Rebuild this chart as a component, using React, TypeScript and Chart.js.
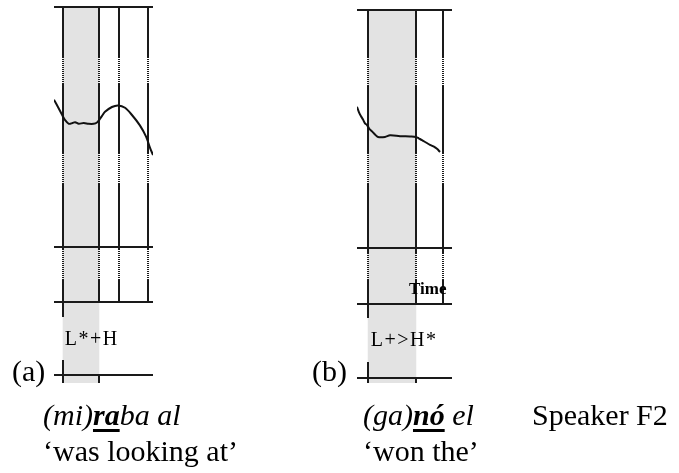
import React, { useEffect, useRef } from "react";
import { Chart, registerables } from "chart.js";
Chart.register(...registerables);

// ---------- Data ----------
// Panel (a): (mi)raba al
const timesA = [0, 0.016, 0.033, 0.044, 0.06, 0.075, 0.085, 0.1, 0.12, 0.14, 0.16, 0.175, 0.183, 0.194, 0.206, 0.234, 0.259, 0.287, 0.315, 0.347, 0.372, 0.388, 0.4];
const f0A = [284, 275, 265, 259, 254, 255, 256, 254, 255, 254, 254, 256, 259, 264, 269, 275, 277, 274, 265, 252, 238, 224, 215];
const boundariesA = [0.035, 0.183, 0.264, 0.379];
const accentA = [0.035, 0.183];
const toneA = "L*+H";

// Panel (b): (ga)nó el
const timesB = [0, 0.008, 0.016, 0.024, 0.032, 0.04, 0.05, 0.06, 0.072, 0.084, 0.112, 0.132, 0.172, 0.212, 0.236, 0.248, 0.26, 0.276, 0.292, 0.306, 0.32, 0.332];
const f0B = [278, 271, 266, 262, 257, 255, 250, 247, 243, 240, 240, 242, 241, 240.5, 240, 238, 236, 233, 230, 228, 225, 221];
const boundariesB = [0.043, 0.237, 0.343];
const accentB = [0.043, 0.237];
const toneB = "L+>H*";

const timeRangeA = [0, 0.4];
const timeRangeB = [0, 0.38];
const f0Range = [100, 400];

const SERIF = '"Liberation Serif", "Times New Roman", serif';
const IT = `italic 30px ${SERIF}`;
const BI = `italic bold 30px ${SERIF}`;
const RG = `30px ${SERIF}`;

type Run = { text: string; font: string; underline?: boolean };
type Caption = { x: number; y: number; runs: Run[] };

const B0 = 290; // page x of panel (b) canvas

const captionsA: Caption[] = [
  { x: 12, y: 381, runs: [{ text: "(a)", font: RG }] },
  { x: 43, y: 425, runs: [{ text: "(mi)", font: IT }, { text: "ra", font: BI, underline: true }, { text: "ba al", font: IT }] },
  { x: 43, y: 461, runs: [{ text: "\u2018was looking at\u2019", font: RG }] },
];
const captionsB: Caption[] = [
  { x: 312 - B0, y: 381, runs: [{ text: "(b)", font: RG }] },
  { x: 363 - B0, y: 425, runs: [{ text: "(ga)", font: IT }, { text: "nó", font: BI, underline: true }, { text: " el", font: IT }] },
  { x: 532 - B0, y: 425, runs: [{ text: "Speaker F2", font: RG }] },
  { x: 363 - B0, y: 461, runs: [{ text: "\u2018won the\u2019", font: RG }] },
];

type PanelSpec = {
  times: number[];
  f0: number[];
  boundaries: number[];
  accent: number[];
  tone: string;
  timeRange: number[];
  captions: Caption[];
  width: number;
  padding: { left: number; right: number; top: number; bottom: number };
  tier1H: number;
  tier2H: number;
  tickH: number;
  leftExtra: number;
  tickUp: number;
  dotted: number[][];
  tierDotted: number[];
  toneOffset: { dx: number; y: number };
  timeLabel?: { x: number; y: number };
};

const LINE = "#1a1a1a";
const SHADE = "#e3e3e3";

const panelA: PanelSpec = {
  times: timesA, f0: f0A, boundaries: boundariesA, accent: accentA, tone: toneA,
  timeRange: timeRangeA, captions: captionsA, width: 290,
  padding: { left: 54, right: 290 - 153, top: 7, bottom: 226 },
  tier1H: 55, tier2H: 73, tickH: 8, leftExtra: 15, tickUp: 15,
  dotted: [[50, 76], [146, 176]], tierDotted: [2, 33],
  toneOffset: { dx: 2, y: 345 },
};
const panelB: PanelSpec = {
  times: timesB, f0: f0B, boundaries: boundariesB, accent: accentB, tone: toneB,
  timeRange: timeRangeB, captions: captionsB, width: 679 - B0,
  padding: { left: 357 - B0, right: 679 - 452, top: 10, bottom: 225 },
  tier1H: 56, tier2H: 74, tickH: 5, leftExtra: 14, tickUp: 16,
  dotted: [[47, 75], [143, 173]], tierDotted: [5, 32],
  toneOffset: { dx: 3, y: 346 },
  timeLabel: { x: 409 - B0, y: 294 },
};

function vLine(ctx: CanvasRenderingContext2D, x: number, y0: number, y1: number, bands: number[][]) {
  let cur = y0;
  const sorted = bands.filter((b) => b[1] > y0 && b[0] < y1).sort((a, b) => a[0] - b[0]);
  for (const b of sorted) {
    if (b[0] > cur) {
      ctx.beginPath(); ctx.moveTo(x, cur); ctx.lineTo(x, b[0]); ctx.stroke();
    }
    const s = Math.round(Math.max(b[0], y0));
    const e = Math.round(Math.min(b[1], y1));
    for (let y = s; y < e; y += 2) ctx.fillRect(x - 1, y, 2, 1);
    cur = Math.min(b[1], y1);
  }
  if (cur < y1) {
    ctx.beginPath(); ctx.moveTo(x, cur); ctx.lineTo(x, y1); ctx.stroke();
  }
}

function makePlugin(p: PanelSpec) {
  return {
    id: "panelFrame",
    beforeDatasetsDraw(chart: any) {
      const { ctx, chartArea } = chart;
      const xs = chart.scales.x;
      const left = chartArea.left, right = chartArea.right, top = chartArea.top, pitchBottom = chartArea.bottom;
      const tier1 = pitchBottom + p.tier1H;
      const tier2 = tier1 + p.tier2H;
      const tickBottom = tier2 + p.tickH;
      ctx.save();
      const sx0 = xs.getPixelForValue(p.accent[0]);
      const sx1 = xs.getPixelForValue(p.accent[1]);
      ctx.fillStyle = SHADE;
      ctx.fillRect(sx0, top, sx1 - sx0, tickBottom - top);

      ctx.strokeStyle = LINE;
      ctx.fillStyle = LINE;
      ctx.lineWidth = 2;
      for (const y of [top, pitchBottom, tier1, tier2]) {
        ctx.beginPath(); ctx.moveTo(left, y); ctx.lineTo(right, y); ctx.stroke();
      }
      const bands = [
        ...p.dotted.map((d) => [top + d[0], top + d[1]]),
        [pitchBottom + p.tierDotted[0], pitchBottom + p.tierDotted[1]],
      ];
      for (const b of p.boundaries) {
        const x = Math.round(xs.getPixelForValue(b));
        vLine(ctx, x, top, tier1, bands);
      }
      const lx = Math.round(sx0);
      const rx = Math.round(sx1);
      ctx.beginPath(); ctx.moveTo(lx, tier1); ctx.lineTo(lx, tier1 + p.leftExtra); ctx.stroke();
      ctx.beginPath(); ctx.moveTo(lx, tier2 - p.tickUp); ctx.lineTo(lx, tickBottom); ctx.stroke();
      ctx.beginPath(); ctx.moveTo(rx, tier2); ctx.lineTo(rx, tickBottom); ctx.stroke();
      ctx.restore();
    },
    afterDraw(chart: any) {
      const { ctx } = chart;
      const xs = chart.scales.x;
      ctx.save();
      ctx.fillStyle = "#000";
      ctx.textBaseline = "alphabetic";
      ctx.textAlign = "left";
      ctx.font = `20px ${SERIF}`;
      try { (ctx as any).letterSpacing = "1.5px"; } catch (e) {}
      ctx.fillText(p.tone, xs.getPixelForValue(p.accent[0]) + p.toneOffset.dx, p.toneOffset.y);
      try { (ctx as any).letterSpacing = "0px"; } catch (e) {}
      if (p.timeLabel) {
        ctx.font = `bold 17px ${SERIF}`;
        ctx.fillText("Time", p.timeLabel.x, p.timeLabel.y);
      }
      for (const c of p.captions) {
        let x = c.x;
        for (const r of c.runs) {
          ctx.font = r.font;
          ctx.fillText(r.text, x, c.y);
          const w = ctx.measureText(r.text).width;
          if (r.underline) ctx.fillRect(x, c.y + 4, w, 3);
          x += w;
        }
      }
      ctx.restore();
    },
  };
}

function Panel({ spec, left }: { spec: PanelSpec; left: number }) {
  const ref = useRef<HTMLCanvasElement | null>(null);
  useEffect(() => {
    if (!ref.current) return;
    const chart = new Chart(ref.current, {
      type: "line",
      data: {
        datasets: [
          {
            data: spec.times.map((t, i) => ({ x: t, y: spec.f0[i] })),
            borderColor: "#111",
            borderWidth: 2,
            pointRadius: 0,
            tension: 0.3,
            fill: false,
          },
        ],
      },
      options: {
        responsive: false,
        animation: false,
        devicePixelRatio: 1,
        layout: { padding: spec.padding },
        plugins: { legend: { display: false }, tooltip: { enabled: false } },
        events: [],
        scales: {
          x: { type: "linear", min: spec.timeRange[0], max: spec.timeRange[1], display: false },
          y: { type: "linear", min: f0Range[0], max: f0Range[1], display: false },
        },
      },
      plugins: [makePlugin(spec)],
    });
    return () => chart.destroy();
  }, [spec]);
  return (
    <canvas
      ref={ref}
      width={spec.width}
      height={473}
      style={{ position: "absolute", left, top: 0, width: spec.width, height: 473 }}
    />
  );
}

export default function App() {
  return (
    <div style={{ position: "absolute", left: 0, top: 0, width: 679, height: 473, background: "#fff", overflow: "hidden" }}>
      <Panel spec={panelA} left={0} />
      <Panel spec={panelB} left={B0} />
    </div>
  );
}
